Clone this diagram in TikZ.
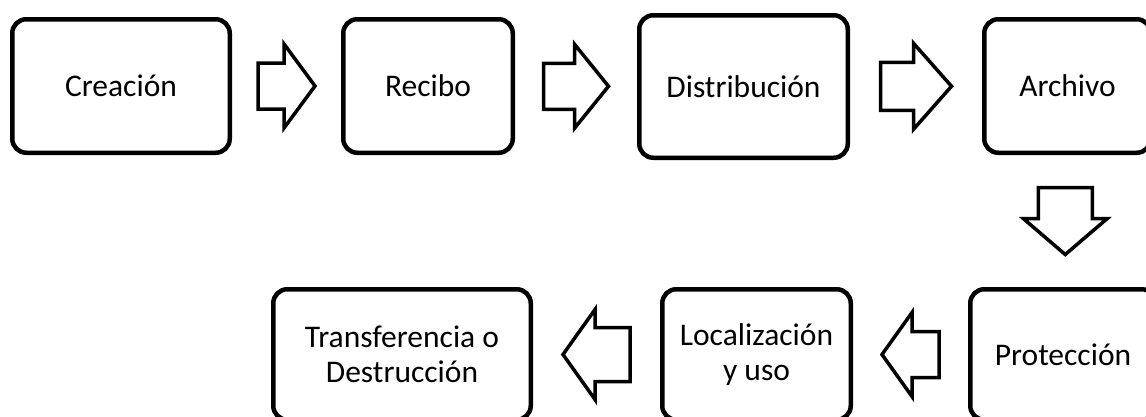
\documentclass[tikz,border=0pt]{standalone}
\usepackage{fontspec}
\setmainfont{Carlito}
\usetikzlibrary{calc}
\tikzset{
  box/.style={draw=black, line width=4.5pt, rounded corners=14pt, align=center,
    inner sep=0pt, font=\fontsize{31.5}{34.5}\selectfont, text=black},
  arrowline/.style={draw=black, line width=3.5pt, fill=white, line join=miter},
  pics/barrow/.style n args={4}{code={
    \draw[arrowline] (-#1/2,-#3) -- (#1/2-#2,-#3) -- (#1/2-#2,-#4) -- (#1/2,0)
      -- (#1/2-#2,#4) -- (#1/2-#2,#3) -- (-#1/2,#3) -- cycle;
  }}
}
\begin{document}
\begin{tikzpicture}[x=1pt, y=-1pt]
\useasboundingbox[fill=white] (0,0) rectangle (1146,416);
% top row
\node[box, minimum width=217.5pt, minimum height=133.5pt] (b1) at (121,86) {Creación};
\node[box, minimum width=169.5pt, minimum height=133.5pt] (b2) at (428,86) {Recibo};
\node[box, minimum width=208.5pt, minimum height=142.5pt] (b3) at (743.5,86.5) {Distribución};
\node[box, minimum width=166.5pt, minimum height=133.5pt] (b4) at (1067.5,86) {Archivo};
% bottom row
\node[box, minimum width=185.5pt, minimum height=130.5pt] (b5) at (1063,354.5) {Protección};
\node[box, minimum width=188.5pt, minimum height=130.5pt] (b6) at (756.5,354.5) {Localización\\y uso};
\node[box, minimum width=257.5pt, minimum height=130.5pt] (b7) at (402,354.5) {Transferencia o\\Destrucción};
% block arrows
\path ($(b1.east)!0.5!(b2.west)$) pic{barrow={57}{31}{23}{42}};
\path ($(b2.east)!0.5!(b3.west)$) pic{barrow={65}{34}{23}{42}};
\path ($(b3.east)!0.5!(b4.west)$) pic{barrow={71}{38}{24}{43}};
\path ($(b4.south)!0.5!(b5.north)$) pic[rotate=-90]{barrow={67}{36}{27}{42}};
\path ($(b5.west)!0.5!(b6.east)$) pic[rotate=180]{barrow={57}{30}{23}{42}};
\path ($(b6.west)!0.5!(b7.east)$) pic[rotate=180]{barrow={67}{32}{27}{45}};
\end{tikzpicture}
\end{document}
